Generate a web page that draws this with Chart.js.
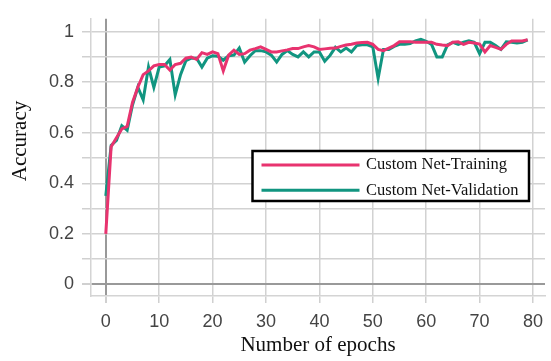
<!DOCTYPE html>
<html>
<head>
<meta charset="utf-8">
<script src="https://cdn.jsdelivr.net/npm/chart.js@4.4.1/dist/chart.umd.min.js"></script>
<style>
  html, body { margin: 0; padding: 0; background: #fff; }
</style>
</head>
<body>
<canvas id="chart" width="551" height="361"></canvas>
<script>
const epochs = [
  0, 1, 2, 3, 4, 5, 6, 7, 8, 9, 10, 11, 12, 13, 14, 15, 16, 17, 18, 19,
  20, 21, 22, 23, 24, 25, 26, 27, 28, 29, 30, 31, 32, 33, 34, 35, 36, 37, 38, 39,
  40, 41, 42, 43, 44, 45, 46, 47, 48, 49, 50, 51, 52, 53, 54, 55, 56, 57, 58, 59,
  60, 61, 62, 63, 64, 65, 66, 67, 68, 69, 70, 71, 72, 73, 74, 75, 76, 77, 78, 79
];

const trainingAcc = [
  0.20, 0.545, 0.58, 0.615, 0.625, 0.72, 0.78, 0.83, 0.845, 0.865,
  0.87, 0.87, 0.848, 0.87, 0.875, 0.895, 0.90, 0.89, 0.917, 0.91,
  0.92, 0.913, 0.845, 0.907, 0.927, 0.91, 0.913, 0.927, 0.933, 0.94,
  0.93, 0.92, 0.92, 0.924, 0.928, 0.933, 0.933, 0.94, 0.945, 0.94,
  0.93, 0.932, 0.934, 0.935, 0.942, 0.947, 0.95, 0.955, 0.957, 0.958,
  0.95, 0.93, 0.925, 0.935, 0.945, 0.96, 0.96, 0.96, 0.958, 0.958,
  0.958, 0.958, 0.95, 0.947, 0.945, 0.958, 0.96, 0.95, 0.958, 0.955,
  0.951, 0.92, 0.945, 0.938, 0.93, 0.95, 0.963, 0.963, 0.963, 0.968
];

const validationAcc = [
  0.35, 0.55, 0.57, 0.628, 0.61, 0.71, 0.78, 0.73, 0.86, 0.78,
  0.86, 0.865, 0.89, 0.75, 0.83, 0.885, 0.895, 0.895, 0.86, 0.895,
  0.905, 0.903, 0.887, 0.905, 0.907, 0.935, 0.88, 0.905, 0.925, 0.925,
  0.92, 0.907, 0.88, 0.91, 0.925, 0.91, 0.90, 0.92, 0.90, 0.92,
  0.92, 0.883, 0.906, 0.938, 0.92, 0.935, 0.92, 0.945, 0.948, 0.948,
  0.94, 0.815, 0.93, 0.93, 0.942, 0.95, 0.95, 0.953, 0.964, 0.97,
  0.962, 0.95, 0.90, 0.90, 0.948, 0.958, 0.95, 0.958, 0.964, 0.958,
  0.913, 0.958, 0.958, 0.945, 0.93, 0.96, 0.958, 0.955, 0.958, 0.968
];

const xTicks = [0, 10, 20, 30, 40, 50, 60, 70, 80];
const yGrid = [0, 0.1, 0.2, 0.3, 0.4, 0.5, 0.6, 0.7, 0.8, 0.9, 1];
const yLabels = [0, 0.2, 0.4, 0.6, 0.8, 1];

const seriesNames = ['Custom Net-Training', 'Custom Net-Validation'];
const seriesColors = ['#E8336F', '#119580'];

const TICK_FONT = { family: '"Liberation Sans", Arial, sans-serif', size: 18 };
const SERIF = '"Liberation Serif", "Times New Roman", serif';

function gridColor(ctx) {
  return ctx.tick && ctx.tick.value === 0 ? '#999' : '#d2d2d2';
}

function gridWidth(ctx) {
  return ctx.tick && ctx.tick.value === 0 ? 2 : 1.5;
}

// y title sits above the plot centre in the original, so draw it by hand
const yTitle = {
  id: 'yTitle',
  afterDraw(chart) {
    const ctx = chart.ctx;
    ctx.save();
    ctx.translate(20.5, 141);
    ctx.rotate(-Math.PI / 2);
    ctx.font = '21px ' + SERIF;
    ctx.fillStyle = '#111';
    ctx.textAlign = 'center';
    ctx.textBaseline = 'middle';
    ctx.fillText('Accuracy', 0, 0);
    ctx.restore();
  }
};

// boxed legend inside the plot
const boxLegend = {
  id: 'boxLegend',
  afterDatasetsDraw(chart) {
    const ctx = chart.ctx;
    const x = 252.5, y = 151, w = 276.5, h = 50;
    ctx.save();
    ctx.fillStyle = '#fff';
    ctx.fillRect(x, y, w, h);
    ctx.strokeStyle = '#000';
    ctx.lineWidth = 2.5;
    ctx.strokeRect(x, y, w, h);
    chart.data.datasets.forEach((ds, i) => {
      const ly = y + 14 + i * 25.3;
      ctx.strokeStyle = ds.borderColor;
      ctx.lineWidth = 3;
      ctx.beginPath();
      ctx.moveTo(x + 9, ly);
      ctx.lineTo(x + 107, ly);
      ctx.stroke();
      ctx.fillStyle = '#111';
      ctx.font = '16.5px ' + SERIF;
      ctx.textAlign = 'left';
      ctx.textBaseline = 'middle';
      ctx.fillText(ds.label, x + 113.5, ly);
    });
    ctx.restore();
  }
};

new Chart(document.getElementById('chart').getContext('2d'), {
  type: 'line',
  data: {
    labels: epochs,
    datasets: [
      {
        label: seriesNames[0],
        data: trainingAcc,
        borderColor: seriesColors[0],
        borderWidth: 3,
        pointRadius: 0,
        tension: 0,
        fill: false
      },
      {
        label: seriesNames[1],
        data: validationAcc,
        borderColor: seriesColors[1],
        borderWidth: 3,
        pointRadius: 0,
        tension: 0,
        fill: false
      }
    ]
  },
  options: {
    responsive: false,
    animation: false,
    layout: { padding: { top: 12, right: 0, bottom: 0, left: 0 } },
    plugins: {
      legend: { display: false },
      tooltip: { enabled: false }
    },
    scales: {
      x: {
        type: 'linear',
        min: -2.77,
        max: 82.25,
        afterBuildTicks(scale) { scale.ticks = xTicks.map(v => ({ value: v })); },
        afterFit(scale) { scale.height = 65; },
        grid: { color: gridColor, lineWidth: gridWidth, tickLength: 7, tickColor: '#d0d0d0' },
        border: { display: true, color: '#d4d4d4', width: 1.5 },
        ticks: {
          font: TICK_FONT,
          color: '#444',
          padding: 8,
          maxRotation: 0,
          autoSkip: false,
          callback: v => String(v)
        },
        title: {
          display: true,
          text: 'Number of epochs',
          color: '#111',
          font: { family: SERIF, size: 21 },
          padding: { top: 0, bottom: 3 }
        }
      },
      y: {
        min: -0.046,
        max: 1.051,
        afterBuildTicks(scale) { scale.ticks = yGrid.map(v => ({ value: v })); },
        afterFit(scale) { scale.width = 91; },
        grid: { color: gridColor, lineWidth: gridWidth, tickLength: 9, tickColor: '#d0d0d0' },
        border: { display: true, color: '#d4d4d4', width: 1.5 },
        ticks: {
          font: TICK_FONT,
          color: '#444',
          padding: 8,
          autoSkip: false,
          callback: v => (yLabels.includes(v) ? String(v) : '')
        }
      }
    }
  },
  plugins: [yTitle, boxLegend]
});
</script>
</body>
</html>
